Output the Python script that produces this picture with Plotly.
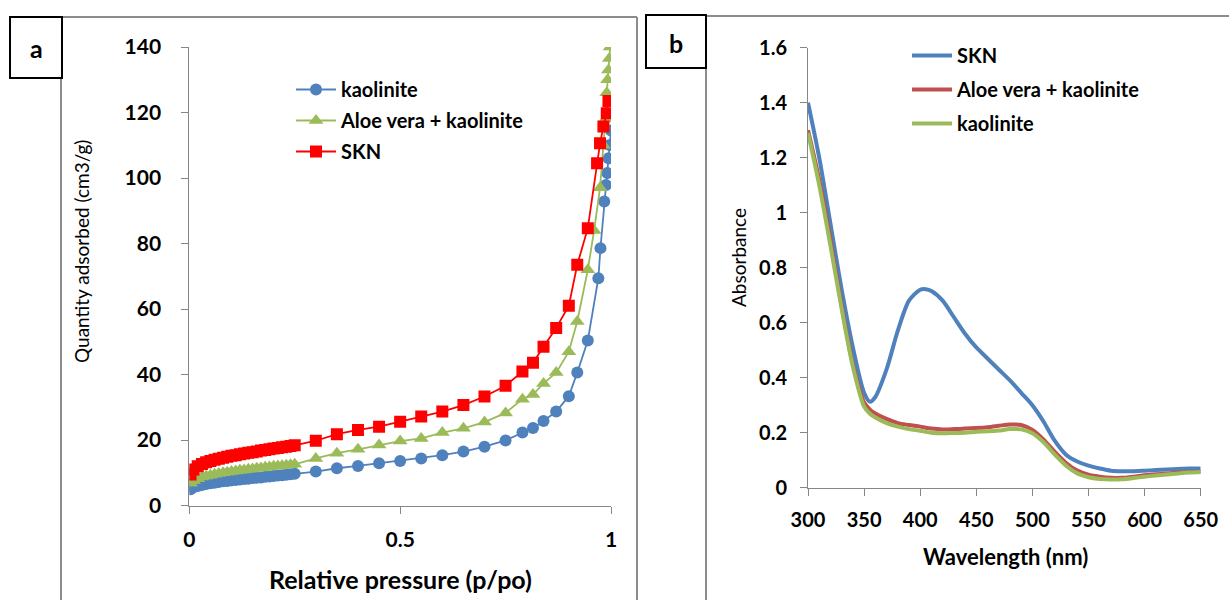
import plotly.graph_objects as go

# ---------- Panel a: N2 adsorption isotherms ----------
p_low = [0.003, 0.01, 0.02, 0.03, 0.04, 0.05, 0.06, 0.07, 0.08, 0.09, 0.10, 0.11, 0.12,
         0.13, 0.14, 0.15, 0.16, 0.17, 0.18, 0.19, 0.20, 0.21, 0.22, 0.23, 0.24, 0.25]
p_high = [0.30, 0.35, 0.40, 0.45, 0.50, 0.55, 0.60, 0.65, 0.70, 0.75, 0.79, 0.815, 0.84,
          0.87, 0.90, 0.92, 0.945]

kaol_p = p_low + p_high + [0.97, 0.975, 0.984, 0.988, 0.991, 0.994, 0.997, 1.0]
kaol_v = [5.0, 5.6, 6.0, 6.3, 6.6, 6.8, 7.0, 7.2, 7.4, 7.5, 7.7, 7.8, 8.0,
          8.1, 8.2, 8.4, 8.5, 8.6, 8.8, 8.9, 9.0, 9.2, 9.3, 9.4, 9.6, 9.7,
          10.4, 11.4, 12.1, 12.9, 13.6, 14.4, 15.4, 16.5, 18.0, 19.9, 22.3, 23.7, 25.8,
          28.7, 33.4, 40.6, 50.4,
          69.4, 78.6, 92.8, 97.9, 101.5, 106.0, 110.1, 114.5]

aloe_p = p_low + p_high + [0.96, 0.974, 0.982, 0.987, 0.99, 0.992, 0.994, 0.996, 0.998]
aloe_v = [6.8, 7.6, 8.2, 8.7, 9.0, 9.3, 9.6, 9.8, 10.0, 10.2, 10.4, 10.6, 10.8,
          10.9, 11.1, 11.2, 11.4, 11.5, 11.7, 11.8, 12.0, 12.1, 12.2, 12.3, 12.5, 12.6,
          14.4, 16.0, 17.2, 18.5, 19.7, 20.5, 22.3, 23.6, 25.5, 28.3, 32.5, 33.9, 37.3,
          40.6, 47.0, 56.2, 72.0,
          84.0, 97.0, 110.0, 118.0, 126.0, 130.0, 133.0, 136.5, 140.0]

skn_p = p_low + p_high + [0.967, 0.974, 0.982, 0.99, 0.994]
skn_v = [9.5, 11.0, 12.0, 12.7, 13.2, 13.6, 14.0, 14.3, 14.6, 14.9, 15.2, 15.4, 15.7,
         15.9, 16.1, 16.3, 16.5, 16.8, 17.0, 17.2, 17.4, 17.6, 17.8, 18.0, 18.2, 18.4,
         19.8, 21.8, 23.1, 24.1, 25.6, 27.2, 28.7, 30.7, 33.3, 36.6, 40.9, 43.6, 48.5,
         54.2, 61.0, 73.5, 84.7,
         104.5, 110.6, 115.7, 119.8, 123.5]

a_xticks = [0, 0.5, 1]
a_xticklabels = ["0", "0.5", "1"]
a_yticks = [0, 20, 40, 60, 80, 100, 120, 140]

# ---------- Panel b: UV-Vis spectra ----------
wl = [300, 310, 320, 330, 340, 350, 355, 360, 370, 380, 390, 400, 405, 410, 420, 430, 440,
      450, 460, 470, 480, 490, 500, 510, 520, 530, 540, 550, 560, 570, 580, 590, 600, 610,
      620, 630, 640, 650]
abs_skn = [1.40, 1.20, 0.96, 0.72, 0.51, 0.345, 0.313, 0.33, 0.43, 0.57, 0.68, 0.72, 0.722,
           0.715, 0.68, 0.62, 0.56, 0.51, 0.47, 0.43, 0.39, 0.345, 0.30, 0.24, 0.17, 0.12,
           0.095, 0.08, 0.07, 0.062, 0.06, 0.06, 0.062, 0.064, 0.066, 0.068, 0.07, 0.07]
abs_aloe = [1.30, 1.12, 0.90, 0.66, 0.45, 0.31, 0.285, 0.27, 0.25, 0.235, 0.228, 0.222, 0.218,
            0.215, 0.212, 0.213, 0.215, 0.217, 0.22, 0.225, 0.23, 0.228, 0.21, 0.175, 0.13,
            0.09, 0.062, 0.047, 0.04, 0.036, 0.036, 0.04, 0.045, 0.049, 0.052, 0.055, 0.057, 0.058]
abs_kaol = [1.29, 1.10, 0.88, 0.65, 0.44, 0.295, 0.27, 0.255, 0.235, 0.222, 0.213, 0.207, 0.203,
            0.2, 0.198, 0.199, 0.2, 0.203, 0.205, 0.208, 0.213, 0.212, 0.198, 0.165, 0.12,
            0.08, 0.052, 0.038, 0.032, 0.03, 0.031, 0.035, 0.04, 0.044, 0.048, 0.052, 0.055, 0.057]

b_xticks = [300, 350, 400, 450, 500, 550, 600, 650]
b_yticks = [0, 0.2, 0.4, 0.6, 0.8, 1, 1.2, 1.4, 1.6]
b_yticklabels = ["0", "0.2", "0.4", "0.6", "0.8", "1", "1.2", "1.4", "1.6"]

BLUE = "#4F81BD"
GREEN = "#9BBB59"
RED = "#FF0000"
DRED = "#C0504D"
FONT = "Lato"
W, H = 1229, 600


def px(x):
    return x / W


def py(y):
    return 1 - y / H


fig = go.Figure()

# Panel a traces
fig.add_trace(go.Scatter(x=kaol_p, y=kaol_v, mode="lines+markers", name="kaolinite",
                         line=dict(color=BLUE, width=1.8),
                         marker=dict(symbol="circle", size=12, color=BLUE),
                         xaxis="x", yaxis="y", legend="legend", legendgroup="a1"))
fig.add_trace(go.Scatter(x=aloe_p, y=aloe_v, mode="lines+markers", name="Aloe vera + kaolinite",
                         line=dict(color=GREEN, width=1.8),
                         marker=dict(symbol="triangle-up", size=13, color=GREEN),
                         xaxis="x", yaxis="y", legend="legend", legendgroup="a2"))
fig.add_trace(go.Scatter(x=skn_p, y=skn_v, mode="lines+markers", name="SKN",
                         line=dict(color=RED, width=1.8),
                         marker=dict(symbol="square", size=12, color=RED),
                         xaxis="x", yaxis="y", legend="legend", legendgroup="a3"))

# Panel b traces
fig.add_trace(go.Scatter(x=wl, y=abs_skn, mode="lines", name="SKN",
                         line=dict(color=BLUE, width=4, shape="spline", smoothing=0.8),
                         xaxis="x2", yaxis="y2", legend="legend2", legendgroup="b1"))
fig.add_trace(go.Scatter(x=wl, y=abs_aloe, mode="lines", name="Aloe vera + kaolinite",
                         line=dict(color=DRED, width=4, shape="spline", smoothing=0.8),
                         xaxis="x2", yaxis="y2", legend="legend2", legendgroup="b2"))
fig.add_trace(go.Scatter(x=wl, y=abs_kaol, mode="lines", name="kaolinite",
                         line=dict(color=GREEN, width=4, shape="spline", smoothing=0.8),
                         xaxis="x2", yaxis="y2", legend="legend2", legendgroup="b3"))

axis_common = dict(showgrid=False, zeroline=False, showline=True, linecolor="#868686",
                   linewidth=1, ticks="outside", tickcolor="#868686", ticklen=7,
                   tickwidth=1, automargin=False)

fig.update_layout(
    template="none",
    width=W, height=H,
    margin=dict(l=0, r=0, t=0, b=0, pad=0, autoexpand=False),
    paper_bgcolor="white", plot_bgcolor="white",
    font=dict(family=FONT, color="black"),
    xaxis=dict(domain=[px(189.3), px(611)], range=[0, 1], tickvals=a_xticks,
               ticktext=a_xticklabels, anchor="y",
               tickfont=dict(size=21, family=FONT, weight="bold"),
               ticklabelstandoff=8, **axis_common),
    yaxis=dict(domain=[py(505.6), py(47)], range=[0, 140], tickvals=a_yticks,
               anchor="x", tickfont=dict(size=21, family=FONT, weight="bold"),
               ticklabelstandoff=16, **axis_common),
    xaxis2=dict(domain=[px(808), px(1200.7)], range=[300, 650], tickvals=b_xticks,
                anchor="y2", tickfont=dict(size=20, family=FONT, weight="bold"),
                ticklabelstandoff=7, **axis_common),
    yaxis2=dict(domain=[py(487.7), py(47.7)], range=[0, 1.6], tickvals=b_yticks,
                ticktext=b_yticklabels, anchor="x2",
                tickfont=dict(size=20, family=FONT, weight="bold"),
                ticklabelstandoff=9, **axis_common),
    legend=dict(x=px(291), y=py(70), xanchor="left", yanchor="top",
                font=dict(size=20, family=FONT, weight="bold"),
                bgcolor="rgba(0,0,0,0)", tracegroupgap=2, itemwidth=40),
    legend2=dict(x=px(907), y=py(36), xanchor="left", yanchor="top",
                 font=dict(size=20, family=FONT, weight="bold"),
                 bgcolor="rgba(0,0,0,0)", tracegroupgap=5, itemwidth=40),
    showlegend=True,
)

# Frames and panel labels
frame = dict(color="#8C8C8C", width=2)
shapes = [
    dict(type="line", x0=px(62), x1=px(637), y0=py(17), y1=py(17), line=frame),
    dict(type="line", x0=px(61), x1=px(61), y0=py(17), y1=py(600), line=frame),
    dict(type="line", x0=px(637), x1=px(637), y0=py(17), y1=py(600), line=frame),
    dict(type="line", x0=px(706), x1=px(1229), y0=py(16), y1=py(16), line=frame),
    dict(type="line", x0=px(706), x1=px(706), y0=py(16), y1=py(600), line=frame),
    dict(type="rect", x0=px(10), x1=px(62), y0=py(78), y1=py(17),
         line=dict(color="black", width=2), fillcolor="white"),
    dict(type="rect", x0=px(646), x1=px(706), y0=py(68), y1=py(15),
         line=dict(color="black", width=2), fillcolor="white"),
]
for s in shapes:
    s.update(xref="paper", yref="paper")
fig.update_layout(shapes=shapes)

ann = [
    dict(text="<b>a</b>", x=px(36), y=py(48), font=dict(size=25)),
    dict(text="<b>b</b>", x=px(676), y=py(43), font=dict(size=25)),
    dict(text="<b>Relative pressure (p/po)</b>", x=px(400), y=py(579), font=dict(size=25)),
    dict(text="Quantity adsorbed (cm3/g)", x=px(82), y=py(252), font=dict(size=19),
         textangle=-90),
    dict(text="<b>Wavelength (nm)</b>", x=px(1005), y=py(556), font=dict(size=22)),
    dict(text="Absorbance", x=px(739), y=py(258), font=dict(size=19), textangle=-90),
]
for a in ann:
    a.update(xref="paper", yref="paper", showarrow=False, xanchor="center",
             yanchor="middle")
    a["font"]["family"] = FONT
    a["font"]["color"] = "black"
fig.update_layout(annotations=ann)

fig.write_html("out.html", config={"displayModeBar": False},
               post_script="document.body.style.margin='0px';document.body.style.overflow='hidden';")
